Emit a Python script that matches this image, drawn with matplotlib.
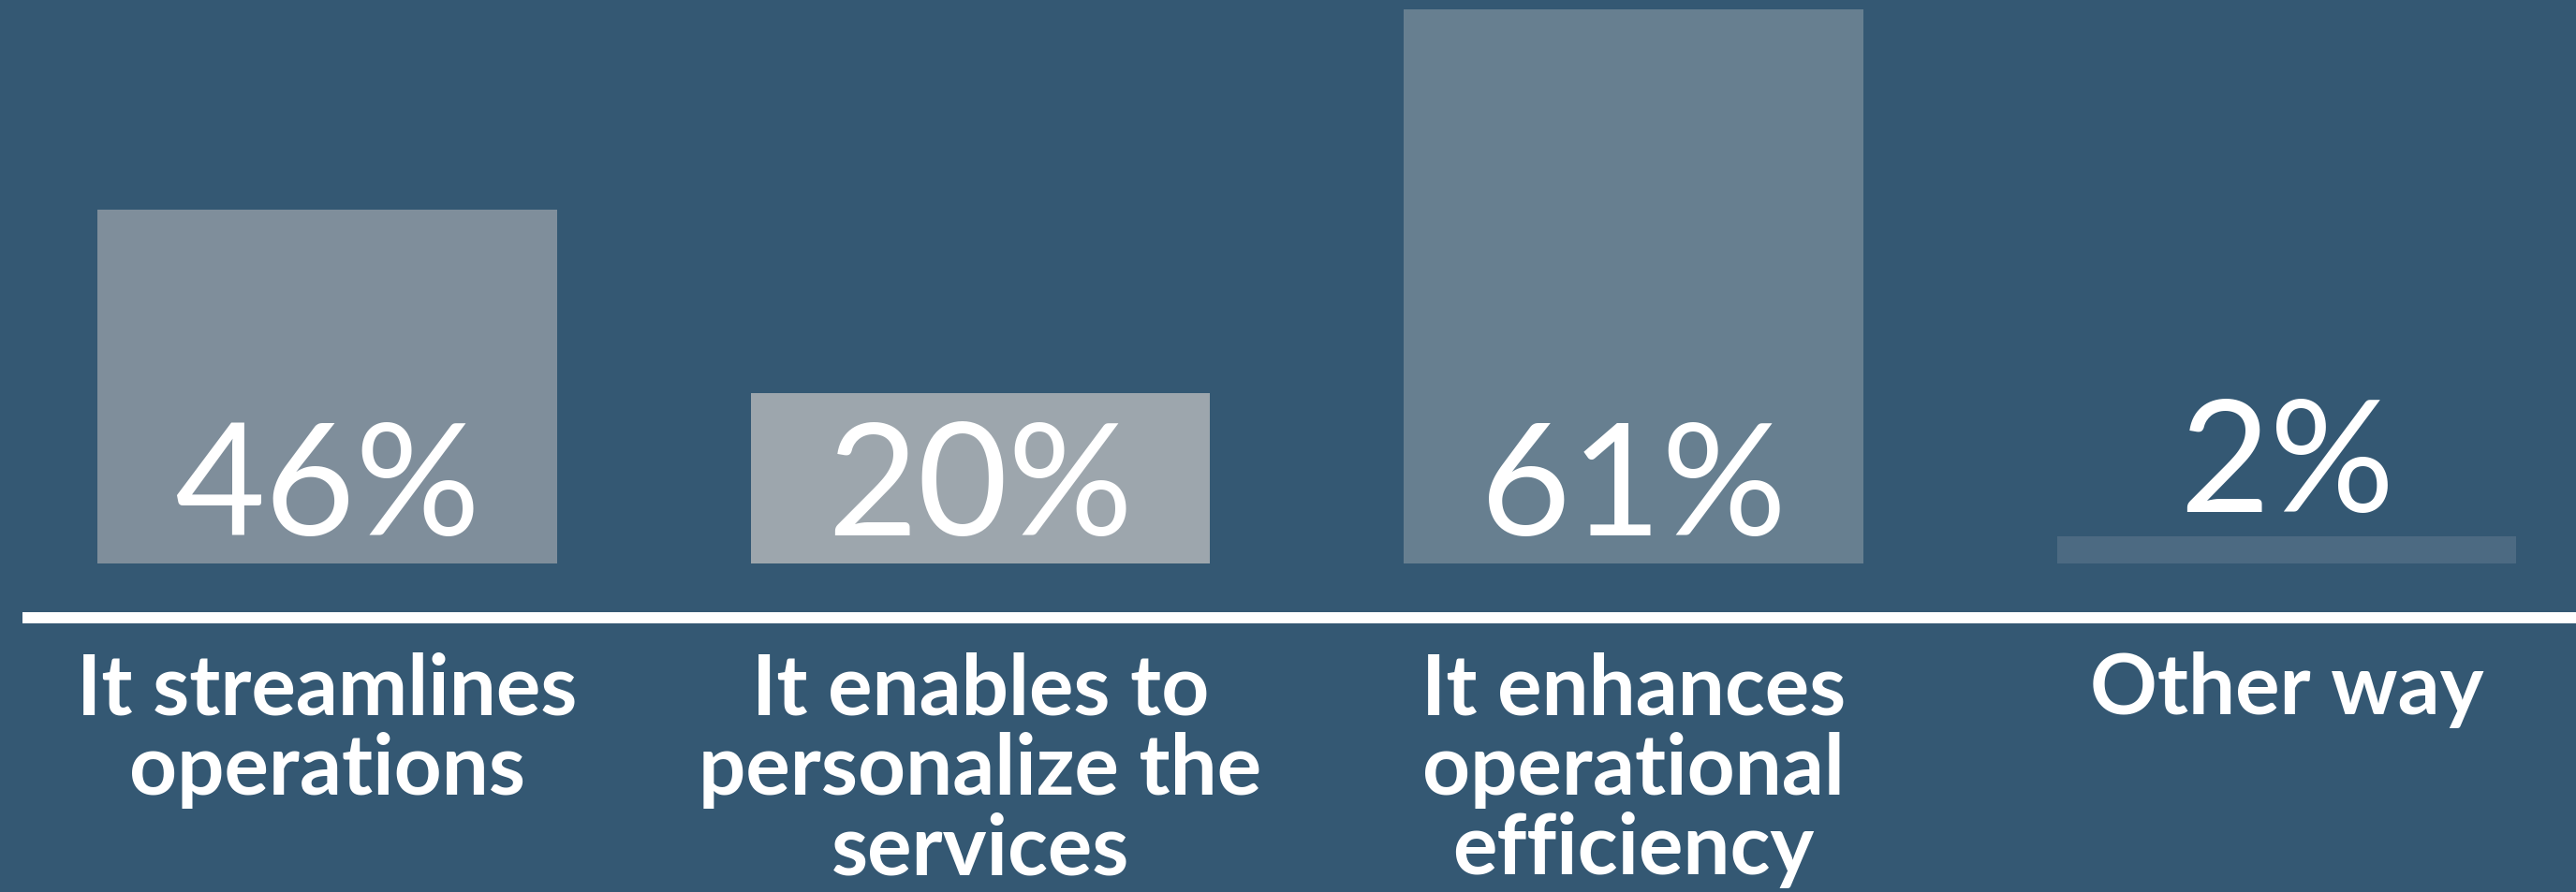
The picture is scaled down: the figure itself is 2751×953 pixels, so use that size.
import matplotlib
matplotlib.use("Agg")
import matplotlib.pyplot as plt

# Data
categories = [
    ["It streamlines", "operations"],
    ["It enables to", "personalize the", "services"],
    ["It enhances", "operational", "efficiency"],
    ["Other way"],
]
values = [46, 20, 61, 2]                 # printed percentages
bar_heights = [38.9, 18.8, 61.0, 3.0]    # drawn heights
bar_colors = ["#7F8E9B", "#9DA6AD", "#677F90", "#4C6A82"]

BG = "#345873"

fig = plt.figure(figsize=(27.51, 9.54), dpi=100, facecolor=BG)
ax = fig.add_axes([0, 0, 1, 1])
ax.set_facecolor(BG)
ax.set_xlim(-0.501, 3.443)
ax.set_ylim(-36.17, 62.13)
ax.axis("off")

x = list(range(len(values)))
ax.bar(x, bar_heights, width=0.703, color=bar_colors, zorder=2)

# baseline
ax.plot([-0.467, 3.6], [-5.98, -5.98], color="white", lw=8.6,
        solid_capstyle="butt", zorder=3, clip_on=False)

for xi, v, h in zip(x, values, bar_heights):
    ty = 3.19 if h > 16 else h + 2.8
    ax.text(xi, ty, f"{v}%", ha="center", va="baseline", color="white",
            fontsize=120, family="Lato", fontweight="normal", zorder=4)

line_gap = 8.81
for xi, lines in zip(x, categories):
    for k, line in enumerate(lines):
        ax.text(xi, -16.49 - k * line_gap, line, ha="center", va="baseline",
                color="white", fontsize=64, family="Lato", fontweight="bold")

fig.savefig("out.png", dpi=100, facecolor=BG)
